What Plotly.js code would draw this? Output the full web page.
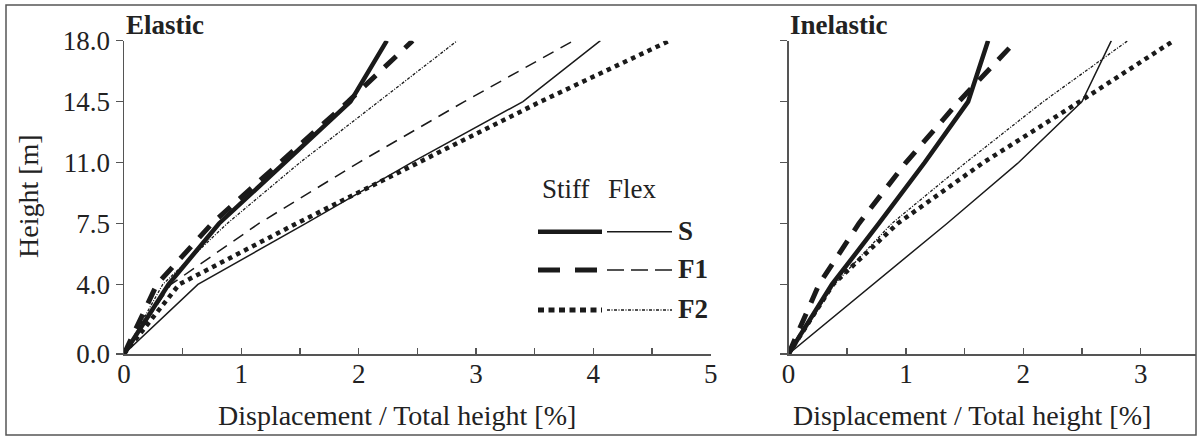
<!DOCTYPE html>
<html>
<head>
<meta charset="utf-8">
<script src="https://cdn.plot.ly/plotly-3.0.1.min.js"></script>
<style>html,body{margin:0;padding:0;background:#fff;}#chart{width:1197px;height:437px;}</style>
</head>
<body>
<div id="chart"></div>
<script>
// ---- data ----
const heights = [0, 4, 7.5, 11, 14.5, 18];
const heightTickText = ["0.0", "4.0", "7.5", "11.0", "14.5", "18.0"];

// Elastic panel: displacement / total height [%]
const elasticStiffS  = [0, 0.38, 0.81, 1.37, 1.93, 2.24];
const elasticStiffF1 = [0, 0.28, 0.75, 1.33, 1.91, 2.46];
const elasticStiffF2 = [0, 0.47, 1.47, 2.50, 3.55, 4.65];
const elasticFlexS   = [0, 0.63, 1.55, 2.45, 3.40, 4.06];
const elasticFlexF1  = [0, 0.40, 1.15, 2.00, 2.90, 3.83];
const elasticFlexF2  = [0, 0.33, 0.88, 1.50, 2.17, 2.84];

// Inelastic panel
const inelasticStiffS  = [0, 0.37, 0.77, 1.16, 1.53, 1.70];
const inelasticStiffF1 = [0, 0.26, 0.60, 1.00, 1.45, 1.94];
const inelasticStiffF2 = [0, 0.38, 0.93, 1.66, 2.48, 3.28];
const inelasticFlexS   = [0, 0.72, 1.35, 1.96, 2.50, 2.75];
const inelasticFlexF2  = [0, 0.39, 0.88, 1.51, 2.17, 2.89];

const xTicksLeft  = [0, 0.5, 1, 1.5, 2, 2.5, 3, 3.5, 4, 4.5, 5];
const xTextLeft   = ["0", "", "1", "", "2", "", "3", "", "4", "", "5"];
const xTicksRight = [0, 0.5, 1, 1.5, 2, 2.5, 3];
const xTextRight  = ["0", "", "1", "", "2", "", "3"];

const panelTitles = ["Elastic", "Inelastic"];
const xTitle = "Displacement / Total height [%]";
const yTitle = "Height [m]";
const legendHead = ["Stiff", "Flex"];
const legendLabels = ["S", "F1", "F2"];

// ---- styles ----
const W = 1197, H = 437;
const INK = "#1a1a1a";
const AX = "#555555";
const FONT = "'Liberation Serif', 'Times New Roman', serif";
const px = v => v / W;
const py = v => 1 - v / H;

const sty = {
  stiffS:  {color: INK, width: 4.5, dash: "solid"},
  stiffF1: {color: INK, width: 5, dash: "16px,12px"},
  stiffF2: {color: INK, width: 4.5, dash: "4.5px,4.5px"},
  flexS:   {color: INK, width: 1.5, dash: "solid"},
  flexF1:  {color: INK, width: 1.5, dash: "12px,8px"},
  flexF2:  {color: INK, width: 1.3, dash: "3px,1.5px,1px,1.5px"}
};

function tr(x, st, xa, ya) {
  return {x: x, y: heights, type: "scatter", mode: "lines", line: st,
          xaxis: xa, yaxis: ya, showlegend: false, hoverinfo: "skip"};
}

const data = [
  tr(elasticFlexS, sty.flexS, "x", "y"),
  tr(elasticFlexF1, sty.flexF1, "x", "y"),
  tr(elasticFlexF2, sty.flexF2, "x", "y"),
  tr(elasticStiffF2, sty.stiffF2, "x", "y"),
  tr(elasticStiffS, sty.stiffS, "x", "y"),
  tr(elasticStiffF1, sty.stiffF1, "x", "y"),
  tr(inelasticFlexS, sty.flexS, "x2", "y2"),
  tr(inelasticFlexF2, sty.flexF2, "x2", "y2"),
  tr(inelasticStiffF2, sty.stiffF2, "x2", "y2"),
  tr(inelasticStiffS, sty.stiffS, "x2", "y2"),
  tr(inelasticStiffF1, sty.stiffF1, "x2", "y2")
];

const tickFont = {family: FONT, size: 27, color: "#222"};
const axBase = {
  showgrid: false, zeroline: false, showline: true, linecolor: AX, linewidth: 1.5,
  tickcolor: AX, tickwidth: 1.5, tickfont: tickFont, fixedrange: true
};
const yDom = [1 - 354 / H, 1 - 40.7 / H];

const layout = {
  width: W, height: H,
  margin: {l: 0, r: 0, t: 0, b: 0},
  paper_bgcolor: "#fff", plot_bgcolor: "rgba(0,0,0,0)",
  showlegend: false,
  font: {family: FONT, color: "#222"},
  xaxis: Object.assign({}, axBase, {domain: [px(124), px(710.7)], range: [0, 5], anchor: "y",
    tickmode: "array", tickvals: xTicksLeft, ticktext: xTextLeft, ticks: "inside", ticklen: 6,
    ticklabelstandoff: -5}),
  yaxis: Object.assign({}, axBase, {domain: yDom, range: [0, 18], anchor: "x",
    tickmode: "array", tickvals: heights, ticktext: heightTickText, ticks: "outside", ticklen: 7}),
  xaxis2: Object.assign({}, axBase, {domain: [px(788.5), px(1196)], range: [0, (1196 - 788.5) / 117.4], anchor: "y2",
    tickmode: "array", tickvals: xTicksRight, ticktext: xTextRight, ticks: "inside", ticklen: 6,
    ticklabelstandoff: -5}),
  yaxis2: Object.assign({}, axBase, {domain: yDom, range: [0, 18], anchor: "x2",
    tickmode: "array", tickvals: heights, ticktext: heightTickText, ticks: "outside", ticklen: 7,
    showticklabels: false}),
  shapes: [],
  annotations: []
};

// frame around the figure
layout.shapes.push({type: "rect", xref: "paper", yref: "paper",
  x0: px(6), x1: px(1196), y0: py(435), y1: py(5), line: {color: AX, width: 1.5}});

// legend samples
const legRows = [231.7, 270, 310];
const stiffStyles = [sty.stiffS, {color: INK, width: 5, dash: "22px,15px"}, {color: INK, width: 5, dash: "6px,4.5px"}];
const flexStyles = [sty.flexS, {color: INK, width: 1.5, dash: "17px,7px"}, {color: INK, width: 1.3, dash: "3px,1.5px,1px,1.5px"}];
legRows.forEach((yy, i) => {
  layout.shapes.push({type: "line", xref: "paper", yref: "paper",
    x0: px(538), x1: px(i === 1 ? 597 : 602), y0: py(yy), y1: py(yy), line: stiffStyles[i]});
  layout.shapes.push({type: "line", xref: "paper", yref: "paper",
    x0: px(607), x1: px(672), y0: py(yy), y1: py(yy), line: flexStyles[i]});
  layout.annotations.push({xref: "paper", yref: "paper", x: px(676), y: py(yy - 1),
    xanchor: "left", yanchor: "middle", showarrow: false, text: "<b>" + legendLabels[i] + "</b>",
    font: {family: FONT, size: 27, color: "#222"}});
});
layout.annotations.push({xref: "paper", yref: "paper", x: px(540), y: py(189), xanchor: "left", yanchor: "middle",
  showarrow: false, text: legendHead[0], font: {family: FONT, size: 27, color: "#222"}});
layout.annotations.push({xref: "paper", yref: "paper", x: px(606), y: py(189), xanchor: "left", yanchor: "middle",
  showarrow: false, text: legendHead[1], font: {family: FONT, size: 27, color: "#222"}});

// panel titles
layout.annotations.push({xref: "paper", yref: "paper", x: px(124), y: py(25), xanchor: "left", yanchor: "middle",
  showarrow: false, text: "<b>" + panelTitles[0] + "</b>", font: {family: FONT, size: 27, color: "#222"}});
layout.annotations.push({xref: "paper", yref: "paper", x: px(788), y: py(25), xanchor: "left", yanchor: "middle",
  showarrow: false, text: "<b>" + panelTitles[1] + "</b>", font: {family: FONT, size: 27, color: "#222"}});

// axis titles
layout.annotations.push({xref: "paper", yref: "paper", x: px(397), y: py(415), xanchor: "center", yanchor: "middle",
  showarrow: false, text: xTitle, font: {family: FONT, size: 28, color: "#222"}});
layout.annotations.push({xref: "paper", yref: "paper", x: px(972), y: py(415), xanchor: "center", yanchor: "middle",
  showarrow: false, text: xTitle, font: {family: FONT, size: 28, color: "#222"}});
layout.annotations.push({xref: "paper", yref: "paper", x: px(28), y: py(196), xanchor: "center", yanchor: "middle",
  showarrow: false, textangle: -90, text: yTitle, font: {family: FONT, size: 28, color: "#222"}});

Plotly.newPlot("chart", data, layout, {displayModeBar: false, staticPlot: true});
</script>
</body>
</html>
